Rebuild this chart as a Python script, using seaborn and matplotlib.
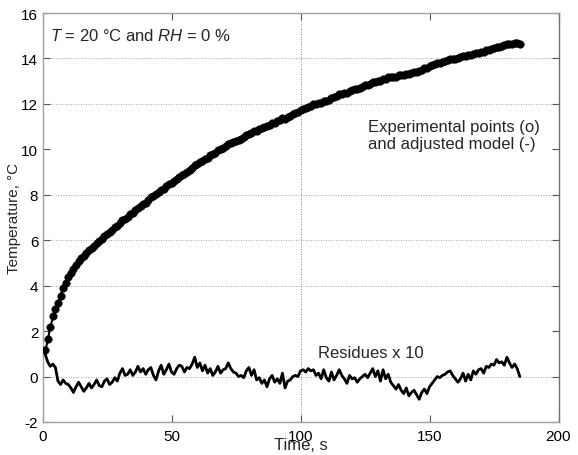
import matplotlib
matplotlib.use("Agg")
import matplotlib.pyplot as plt
import numpy as np
import pandas as pd
import seaborn as sns

# Adjusted model temperature (°C), one value per second from t = 1 s
model_temp = [
    1.05, 1.60, 2.15, 2.60, 2.95, 3.25, 3.60, 3.90, 4.15, 4.40,
    4.60, 4.80, 4.95, 5.10, 5.25, 5.37, 5.49, 5.60, 5.70, 5.80,
    5.90, 6.00, 6.10, 6.20, 6.30, 6.39, 6.48, 6.57, 6.66, 6.75,
    6.84, 6.93, 7.02, 7.11, 7.20, 7.29, 7.38, 7.47, 7.56, 7.65,
    7.75, 7.85, 7.95, 8.03, 8.10, 8.18, 8.26, 8.34, 8.42, 8.50,
    8.58, 8.66, 8.74, 8.82, 8.90, 8.98, 9.06, 9.14, 9.22, 9.30,
    9.38, 9.46, 9.54, 9.62, 9.70, 9.77, 9.84, 9.91, 9.98, 10.05,
    10.11, 10.17, 10.23, 10.29, 10.35, 10.41, 10.47, 10.53, 10.59, 10.65,
    10.71, 10.77, 10.83, 10.89, 10.95, 11.00, 11.05, 11.10, 11.15, 11.20,
    11.25, 11.30, 11.35, 11.40, 11.45, 11.50, 11.55, 11.60, 11.65, 11.70,
    11.75, 11.80, 11.85, 11.90, 11.95, 11.99, 12.03, 12.07, 12.11, 12.15,
    12.20, 12.25, 12.30, 12.35, 12.40, 12.44, 12.48, 12.52, 12.56, 12.60,
    12.64, 12.68, 12.72, 12.76, 12.80, 12.84, 12.88, 12.92, 12.96, 13.00,
    13.04, 13.08, 13.12, 13.16, 13.20, 13.23, 13.26, 13.29, 13.32, 13.35,
    13.38, 13.41, 13.44, 13.47, 13.50, 13.54, 13.58, 13.62, 13.66, 13.70,
    13.73, 13.76, 13.79, 13.82, 13.85, 13.88, 13.91, 13.94, 13.97, 14.00,
    14.03, 14.06, 14.09, 14.12, 14.15, 14.17, 14.19, 14.21, 14.23, 14.25,
    14.28, 14.31, 14.34, 14.37, 14.40, 14.43, 14.46, 14.49, 14.52, 14.55,
    14.57, 14.59, 14.61, 14.63, 14.65,
]

# Residues (experimental - model), scaled by 10
residues_x10 = [
    1.00, 0.65, 0.45, 0.55, 0.40, -0.20, -0.35, -0.15, -0.30, -0.35,
    -0.50, -0.70, -0.45, -0.25, -0.45, -0.65, -0.50, -0.30, -0.50, -0.35,
    -0.15, -0.40, -0.45, -0.20, -0.10, -0.35, -0.25, -0.05, -0.20, 0.15,
    0.35, 0.05, 0.10, 0.30, 0.05, 0.20, 0.45, 0.20, 0.35, 0.10,
    0.30, 0.40, 0.05, -0.15, 0.25, 0.50, 0.10, 0.30, 0.55, 0.20,
    0.10, 0.35, 0.50, 0.45, 0.20, 0.40, 0.35, 0.55, 0.85, 0.40,
    0.60, 0.25, 0.50, 0.15, 0.35, 0.05, 0.20, 0.45, 0.15, 0.30,
    0.35, 0.60, 0.35, 0.20, 0.15, 0.00, 0.05, -0.05, 0.25, 0.40,
    0.05, 0.30, -0.15, -0.05, -0.30, -0.15, -0.45, -0.10, 0.05, -0.25,
    -0.10, -0.30, 0.15, -0.50, -0.20, -0.15, 0.00, 0.05, 0.00, 0.25,
    0.30, 0.20, 0.35, 0.25, 0.30, 0.05, 0.15, -0.10, 0.30, -0.05,
    -0.20, 0.20, -0.15, 0.05, 0.30, 0.05, -0.10, -0.30, 0.05, -0.10,
    -0.05, -0.25, -0.10, 0.00, 0.10, -0.05, 0.15, 0.35, 0.00, 0.25,
    -0.20, 0.30, -0.10, 0.10, -0.25, -0.40, -0.55, -0.35, -0.60, -0.75,
    -0.50, -0.85, -0.70, -0.60, -0.80, -1.00, -0.70, -0.55, -0.75, -0.45,
    -0.30, -0.15, 0.00, -0.05, 0.05, 0.10, 0.20, 0.25, 0.05, -0.10,
    -0.25, -0.10, 0.15, -0.20, 0.10, -0.15, 0.25, 0.10, 0.30, 0.35,
    0.15, 0.45, 0.40, 0.55, 0.50, 0.75, 0.60, 0.65, 0.50, 0.85,
    0.60, 0.40, 0.55, 0.35, 0.00,
]

time_s = np.arange(1, len(model_temp) + 1)
x_ticks = [0, 50, 100, 150, 200]
y_ticks = [-2, 0, 2, 4, 6, 8, 10, 12, 14, 16]
h_grid = [0, 4, 6, 8, 12, 14]
v_grid = [100]

df = pd.DataFrame({
    "time": time_s,
    "model": model_temp,
    "residue": residues_x10,
})
df["measured"] = df["model"] + df["residue"] / 10.0

sns.set_style("white")
plt.rcParams["font.family"] = ["Liberation Sans", "DejaVu Sans"]
plt.rcParams["mathtext.fontset"] = "custom"
plt.rcParams["mathtext.it"] = "Liberation Sans:italic"
plt.rcParams["mathtext.rm"] = "Liberation Sans"

fig = plt.figure(figsize=(5.78, 4.56), dpi=100)
ax = fig.add_axes([42.5 / 578, 1 - 423 / 456, 516 / 578, 409 / 456])

for yv in h_grid:
    ax.axhline(yv, color="#888888", lw=0.6, ls=(0, (1, 2)), zorder=0)
for xv in v_grid:
    ax.axvline(xv, color="#666666", lw=0.6, ls=(0, (1, 2)), zorder=0)

sns.lineplot(data=df, x="time", y="model", ax=ax, color="black", lw=1.5, zorder=3)
sns.scatterplot(data=df, x="time", y="measured", ax=ax, color="black",
                s=30, edgecolor="black", linewidth=0.3, zorder=4)
sns.lineplot(data=df, x="time", y="residue", ax=ax, color="black", lw=2.0, zorder=3)

ax.set_xlim(0, 200)
ax.set_ylim(-2, 16)
ax.set_xticks(x_ticks)
ax.set_yticks(y_ticks)
ax.set_xticklabels([str(v) for v in x_ticks])
ax.set_yticklabels([str(v) for v in y_ticks])
ax.tick_params(direction="in", length=5, width=0.8, color="#555555",
               labelsize=11, labelcolor="black", top=True, right=True,
               bottom=True, left=True)
ax.tick_params(axis="x", pad=5)
ax.tick_params(axis="y", pad=3)

for side in ["left", "bottom", "top"]:
    ax.spines[side].set_color("#a0a0a0")
    ax.spines[side].set_linewidth(1.0)
ax.spines["right"].set_color("#707070")
ax.spines["right"].set_linewidth(1.0)

ax.set_xlabel("Time, s", fontsize=12, labelpad=-4)
ax.set_ylabel("Temperature, °C", fontsize=11, labelpad=0)

ax.text(2.9, 15.05, r"$T$ = 20 °C and $RH$ = 0 %", fontsize=12,
        ha="left", va="center")
ax.text(126, 10.62, "Experimental points (o)\nand adjusted model (-)",
        fontsize=12, ha="left", va="center", linespacing=1.15)
ax.text(106.8, 1.07, "Residues x 10", fontsize=12, ha="left", va="center")

fig.savefig("out.png", dpi=100)
